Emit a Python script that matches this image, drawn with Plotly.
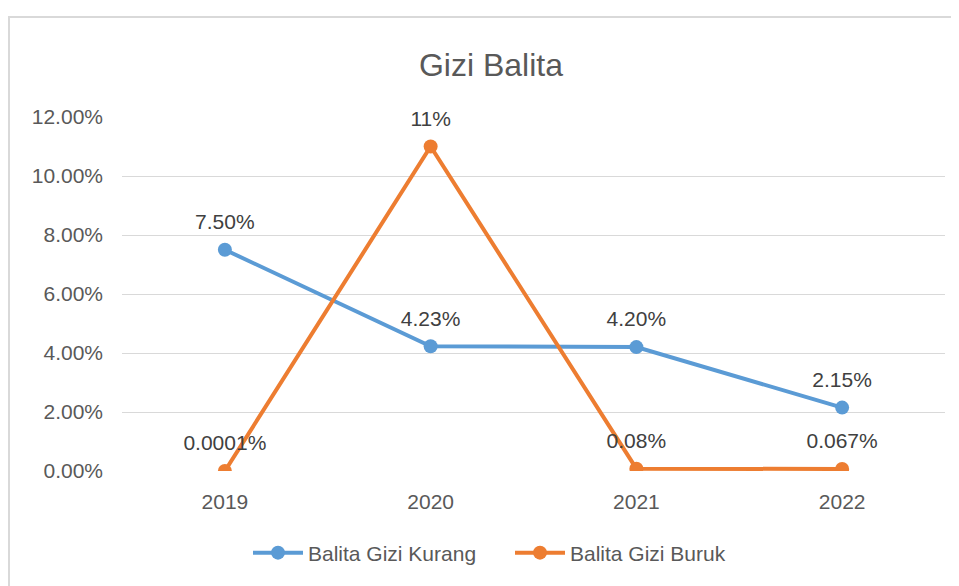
import plotly.graph_objects as go

years = ["2019", "2020", "2021", "2022"]
gizi_kurang = [0.075, 0.0423, 0.042, 0.0215]
gizi_buruk = [0.000001, 0.11, 0.0008, 0.00067]
label_kurang = ["7.50%", "4.23%", "4.20%", "2.15%"]
label_buruk = ["0.0001%", "11%", "0.08%", "0.067%"]
y_ticks = [0, 0.02, 0.04, 0.06, 0.08, 0.10, 0.12]

FONT = "Liberation Sans, Arial, sans-serif"
BLUE = "#5B9BD5"
ORANGE = "#ED7D31"
GREY = "#595959"
LBL = dict(family=FONT, size=21, color="#404040")

fig = go.Figure()
fig.add_trace(go.Scatter(x=years, y=gizi_kurang, mode="lines+markers", name="Balita Gizi Kurang",
                         line=dict(color=BLUE, width=4), marker=dict(size=14, color=BLUE)))
fig.add_trace(go.Scatter(x=years, y=gizi_buruk, mode="lines+markers", name="Balita Gizi Buruk",
                         line=dict(color=ORANGE, width=4), marker=dict(size=14, color=ORANGE)))
for ys, ls in [(gizi_kurang, label_kurang), (gizi_buruk, label_buruk)]:
    fig.add_trace(go.Scatter(x=years, y=ys, mode="markers+text", text=ls, textposition="top center",
                             textfont=LBL, cliponaxis=False, showlegend=False, hoverinfo="skip",
                             marker=dict(size=23, color="rgba(0,0,0,0)")))

OFF = 8
W, H = 959, 586
L, R, T, B = 122 - OFF, 945 - OFF, 117 - OFF, 471 - OFF
def px(x):
    return (x - OFF - L) / (R - L)
def py(y):
    return (B - (y - OFF)) / (B - T)

fig.update_layout(
    width=W, height=H,
    margin=dict(l=L, r=W - R, t=T, b=H - B),
    paper_bgcolor="white", plot_bgcolor="white",
    title=dict(text="Gizi Balita", x=(491 - OFF) / W, xref="container", xanchor="center",
               y=1 - (65 - OFF) / H, yanchor="middle",
               font=dict(family=FONT, size=32, color=GREY)),
    xaxis=dict(type="category", range=[-0.5, 3.5], showgrid=False, zeroline=False, showline=False,
               ticks="", ticklabelstandoff=16, tickfont=dict(family=FONT, size=21, color=GREY)),
    yaxis=dict(range=[0, 0.12], tickvals=y_ticks, tickformat=".2%", showgrid=True, gridcolor="#d9d9d9",
               gridwidth=1, zeroline=False, showline=False, ticks="", ticklabelstandoff=18,
               tickfont=dict(family=FONT, size=21, color=GREY)),
    legend=dict(orientation="h", x=px(248), xanchor="left", y=py(553), yanchor="middle",
                font=dict(family=FONT, size=21, color=GREY), itemwidth=50, entrywidth=197),
    shapes=[dict(type="rect", xref="paper", yref="paper", x0=px(9), x1=px(975), y0=py(17), y1=py(600),
                 line=dict(color="#d9d9d9", width=2), fillcolor="rgba(0,0,0,0)", layer="below")],
)

fig.write_html("out.html")
